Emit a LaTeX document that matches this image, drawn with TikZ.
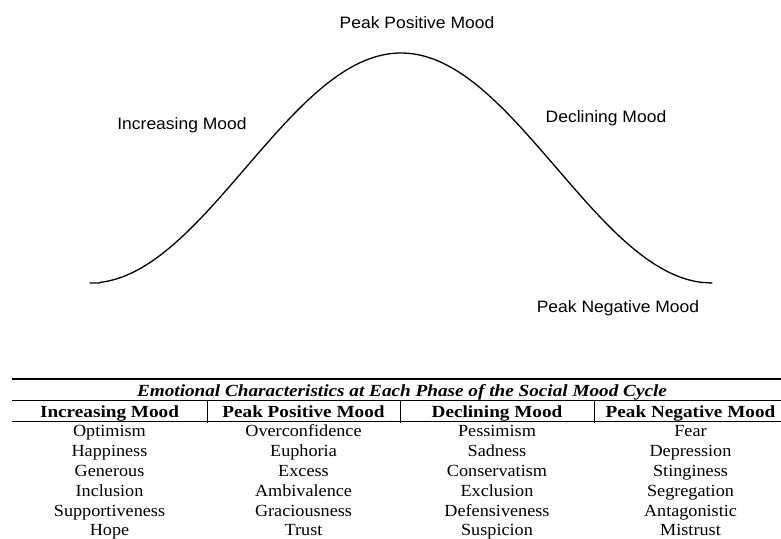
\documentclass[tikz,border=0pt]{standalone}
\usepackage{fontspec}
\newfontfamily\tabserif[FakeStretch=1.07]{Liberation Serif}
\newfontfamily\tabbold[FakeStretch=1.13]{Liberation Serif}
\newfontfamily\labsans[FakeStretch=1.06]{Liberation Sans}
\tikzset{
  lbl/.style={font={\labsans\fontsize{16.5}{19}\selectfont}, inner sep=0pt, anchor=base},
  ttl/.style={font={\tabbold\fontsize{17}{20}\selectfont\bfseries\itshape}, inner sep=0pt, anchor=base},
  hd/.style={font={\tabbold\fontsize{17}{20}\selectfont\bfseries}, inner sep=0pt, anchor=base},
  cell/.style={font={\tabserif\fontsize{17}{20}\selectfont}, inner sep=0pt, anchor=base},
  rule/.style={line width=1pt},
  toprule/.style={line width=1.8pt},
  curve/.style={line width=1.3pt, line cap=round}
}
\begin{document}
\begin{tikzpicture}[x=1pt,y=-1pt]
\useasboundingbox (0,0) rectangle (781,538);
% curve
\draw[curve] (90,283) -- (100,283) plot[domain=100:702, samples=160, smooth] (\x,{283-115*(1+cos((\x-401)/311*180))}) -- (712,283);
% labels
\node[lbl] (ppm) at (417,28) {Peak Positive Mood};
\node[lbl] (inc) at (182,129) {Increasing Mood};
\node[lbl] (dec) at (606,122) {Declining Mood};
\node[lbl] (pnm) at (618,312) {Peak Negative Mood};
% table rules
\coordinate (tl) at (12,379);
\coordinate (tr) at (781,379);
\coordinate (ml) at (12,400);
\coordinate (mr) at (781,400);
\coordinate (bl) at (12,421);
\coordinate (br) at (781,421);
\draw[toprule] (tl) -- (tr);
\draw[rule] (ml) -- (mr);
\draw[rule] (bl) -- (br);
\foreach \c [count=\i] in {207,400,594}{
  \coordinate (s\i a) at (\c,400);
  \coordinate (s\i b) at (\c,423);
  \draw[rule] (s\i a) -- (s\i b);
}
\node[ttl] (title) at (402,396) {Emotional Characteristics at Each Phase of the Social Mood Cycle};
\node[hd] (h1) at (109.5,417) {Increasing Mood};
\node[hd] (h2) at (303.5,417) {Peak Positive Mood};
\node[hd] (h3) at (497,417) {Declining Mood};
\node[hd] (h4) at (690.5,417) {Peak Negative Mood};
\foreach \a/\b/\c/\d [count=\r] in {Optimism/Overconfidence/Pessimism/Fear, Happiness/Euphoria/Sadness/Depression, Generous/Excess/Conservatism/Stinginess, Inclusion/Ambivalence/Exclusion/Segregation, Supportiveness/Graciousness/Defensiveness/Antagonistic, Hope/Trust/Suspicion/Mistrust}{
  \node[cell] (c\r a) at (109.5,{417+19.8*\r}) {\a};
  \node[cell] (c\r b) at (303.5,{417+19.8*\r}) {\b};
  \node[cell] (c\r c) at (497,{417+19.8*\r}) {\c};
  \node[cell] (c\r d) at (690.5,{417+19.8*\r}) {\d};
}
\end{tikzpicture}
\end{document}
